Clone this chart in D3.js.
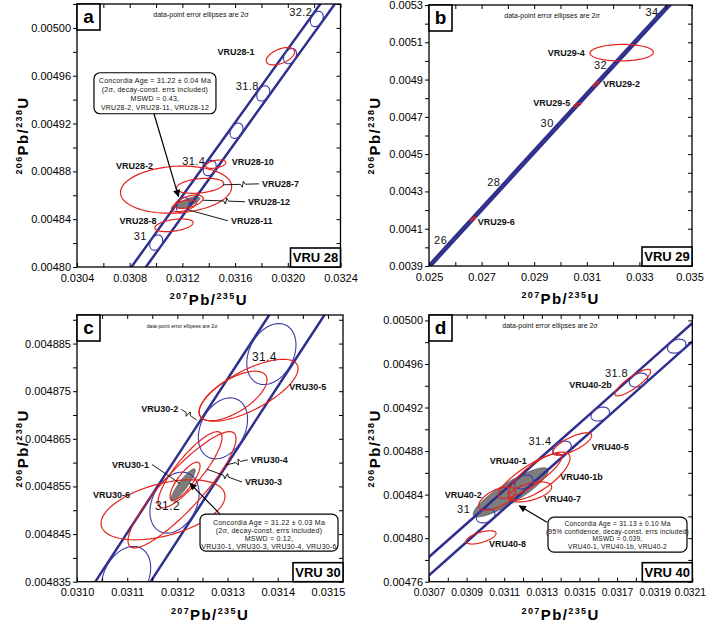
<!DOCTYPE html>
<html><head><meta charset="utf-8">
<script src="https://cdn.jsdelivr.net/npm/d3@7"></script>
<style>
body{margin:0;background:#fff}
svg{display:block}
text{font-family:"Liberation Sans",Arial,Helvetica,sans-serif}
</style>
</head><body>
<svg id="chart" width="707" height="626"></svg>
<script>
// ================= DATA =================
// Concordia reference points (age in Ma, 207Pb/235U, 206Pb/238U); mark = age ellipse drawn
const concordiaA = [
  {age:30.8, x:0.0307981, y:0.0047893},
  {age:31.0, x:0.0310012, y:0.0048204, mark:true, label:"31"},
  {age:31.2, x:0.0312042, y:0.0048516, mark:true},
  {age:31.4, x:0.0314074, y:0.0048828, mark:true, label:"31.4"},
  {age:31.6, x:0.0316106, y:0.0049140, mark:true},
  {age:31.8, x:0.0318138, y:0.0049452, mark:true, label:"31.8"},
  {age:32.0, x:0.0320171, y:0.0049764, mark:true},
  {age:32.2, x:0.0322203, y:0.0050075, mark:true, label:"32.2"},
  {age:32.4, x:0.0324237, y:0.0050387}
];
const concordiaB = [
  {age:24, x:0.0239179, y:0.0037299},
  {age:26, x:0.0259367, y:0.0040414, mark:true, label:"26"},
  {age:28, x:0.0279595, y:0.0043529, mark:true, label:"28"},
  {age:30, x:0.0299863, y:0.0046646, mark:true, label:"30"},
  {age:32, x:0.0320171, y:0.0049764, mark:true, label:"32"},
  {age:34, x:0.0340518, y:0.0052882, mark:true, label:"34"},
  {age:35, x:0.0350707, y:0.0054441}
];
const concordiaC = [
  {age:31.0, x:0.0310013, y:0.0048204},
  {age:31.1, x:0.0310978, y:0.0048360, mark:true},
  {age:31.2, x:0.0311943, y:0.0048516, mark:true, label:"31.2"},
  {age:31.3, x:0.0312908, y:0.0048672, mark:true},
  {age:31.4, x:0.0313873, y:0.0048828, mark:true, label:"31.4"},
  {age:31.5, x:0.0314838, y:0.0048984}
];
const concordiaD = [
  {age:30.6, x:0.0305951, y:0.0047581},
  {age:30.8, x:0.0307981, y:0.0047893},
  {age:31.0, x:0.0310012, y:0.0048204, mark:true, label:"31"},
  {age:31.2, x:0.0312042, y:0.0048516, mark:true},
  {age:31.4, x:0.0314074, y:0.0048828, mark:true, label:"31.4"},
  {age:31.6, x:0.0316106, y:0.0049140, mark:true},
  {age:31.8, x:0.0318138, y:0.0049452, mark:true, label:"31.8"},
  {age:32.0, x:0.0320171, y:0.0049764, mark:true},
  {age:32.2, x:0.0322203, y:0.0050075}
];
// decay-constant error: band half-width (in 207/235) and age-marker ellipse (2 sigma)
const bandHalfWidth = 0.000055;
const ageEllipse = {sx:0.000049, sy:0.0000064, rho:0.30};

// Sample analyses: centre, 2-sigma half-widths, error correlation
const spotsA = [
  {name:"VRU28-1",  x:0.031944, y:0.0049763, sx:0.0001076, sy:0.0000073, rho:0.50},
  {name:"VRU28-10", x:0.031453, y:0.0048860, sx:0.0000758, sy:0.0000035, rho:0.40},
  {name:"VRU28-2",  x:0.031152, y:0.0048647, sx:0.0004220, sy:0.0000197, rho:0.12},
  {name:"VRU28-7",  x:0.031334, y:0.0048679, sx:0.0001795, sy:0.0000063, rho:0.30},
  {name:"VRU28-12", x:0.031250, y:0.0048546, sx:0.0001076, sy:0.0000056, rho:0.50},
  {name:"VRU28-11", x:0.031212, y:0.0048512, sx:0.0000947, sy:0.0000049, rho:0.50},
  {name:"VRU28-8",  x:0.031136, y:0.0048349, sx:0.0001455, sy:0.0000053, rho:0.40}
];
const spotsB = [
  {name:"VRU29-4", x:0.032327, y:0.0050442, sx:0.0012053, sy:0.0000445, rho:0.05},
  {name:"VRU29-2", x:0.031350, y:0.0048763, sx:0.0001100, sy:0.0000130, rho:0.90},
  {name:"VRU29-5", x:0.030639, y:0.0047636, sx:0.0001300, sy:0.0000090, rho:0.60},
  {name:"VRU29-6", x:0.026662, y:0.0041521, sx:0.0001000, sy:0.0000110, rho:0.90}
];
const spotsC = [
  {name:"VRU30-1", x:0.0312152, y:0.0048561, sx:0.0000299, sy:0.0000040, rho:0.80},
  {name:"VRU30-2", x:0.0313108, y:0.0048740, sx:0.0000677, sy:0.0000052, rho:0.65},
  {name:"VRU30-3", x:0.0312092, y:0.0048543, sx:0.0001076, sy:0.0000122, rho:0.88},
  {name:"VRU30-4", x:0.0312251, y:0.0048585, sx:0.0000638, sy:0.0000080, rho:0.85},
  {name:"VRU30-5", x:0.0313420, y:0.0048752, sx:0.0000985, sy:0.0000065, rho:0.70},
  {name:"VRU30-6", x:0.0311714, y:0.0048501, sx:0.0001235, sy:0.0000063, rho:0.45}
];
const spotsD = [
  {name:"VRU40-2b", x:0.0317836, y:0.0049429, sx:0.0000946, sy:0.0000122, rho:0.85},
  {name:"VRU40-5",  x:0.0314614, y:0.0048865, sx:0.0001037, sy:0.0000103, rho:0.75},
  {name:"VRU40-1",  x:0.0312370, y:0.0048571, sx:0.0001686, sy:0.0000206, rho:0.85},
  {name:"VRU40-1b", x:0.0312860, y:0.0048571, sx:0.0001638, sy:0.0000220, rho:0.75},
  {name:"VRU40-7",  x:0.0312370, y:0.0048425, sx:0.0001154, sy:0.0000092, rho:0.50},
  {name:"VRU40-2",  x:0.0310616, y:0.0048365, sx:0.0000973, sy:0.0000107, rho:0.60},
  {name:"VRU40-8",  x:0.0309765, y:0.0048007, sx:0.0000798, sy:0.0000061, rho:0.60}
];
// Concordia ages (grey ellipses)
const concAgeA = {x:0.031246,  y:0.0048540, sx:0.0000856, sy:0.0000049, rho:0.70};
const concAgeC = {x:0.0312112, y:0.0048553, sx:0.0000243, sy:0.0000034, rho:0.90};
const concAgeD = {x:0.0311349, y:0.0048421, sx:0.0001994, sy:0.0000225, rho:0.88};

const calloutTextA = ["Concordia Age = 31.22 \u00b1 0.04 Ma","(2\u03c3, decay-const. errs included)","MSWD = 0.43,","VRU28-2, VRU28-11, VRU28-12"];
const calloutTextC = ["Concordia Age = 31.22 \u00b1 0.03 Ma","(2\u03c3, decay-const. errs included)","MSWD = 0.12,","VRU30-1, VRU30-3, VRU30-4, VRU30-6"];
const calloutTextD = ["Concordia Age = 31.13 \u00b1 0.10 Ma","(95% confidence, decay-const. errs included)","MSWD = 0.039,","VRU40-1, VRU40-1b, VRU40-2"];

// Tick values
const xTicksA = [0.0304,0.0308,0.0312,0.0316,0.0320,0.0324];
const yTicksA = [0.00480,0.00484,0.00488,0.00492,0.00496,0.00500];
const xTicksB = [0.025,0.027,0.029,0.031,0.033,0.035];
const yTicksB = [0.0039,0.0041,0.0043,0.0045,0.0047,0.0049,0.0051,0.0053];
const xTicksC = [0.0310,0.0311,0.0312,0.0313,0.0314,0.0315];
const yTicksC = [0.004835,0.004845,0.004855,0.004865,0.004875,0.004885];
const xTicksD = [0.0307,0.0309,0.0311,0.0313,0.0315,0.0317,0.0319,0.0321];
const yTicksD = [0.00476,0.00480,0.00484,0.00488,0.00492,0.00496,0.00500];

// ================= LAYOUT =================
const panels = [
  {letter:"a", sample:"VRU 28", box:[77,4,340.5,267], xDom:[0.0304,0.0324], yDom:[0.0048,0.00502],
   xt:xTicksA, yt:yTicksA, xf:".4f", yf:".5f", xfs:11, conc:concordiaA, spots:spotsA, cage:concAgeA,
   ageLab:{dx:-16,dy:-7,fs:11}, noteX:124, noteFs:7,
   labels:[
     {n:"VRU28-1", dx:-26, dy:-4, a:"end"},
     {n:"VRU28-10",dx:16, dy:-2.5, a:"start"},
     {n:"VRU28-2", dx:-23, dy:-24, a:"end"},
     {n:"VRU28-7", dx:62, dy:-2, a:"start", lx:23, ly:-1, zig:true},
     {n:"VRU28-12",dx:59, dy:0, a:"start", lx:14, ly:-1.5, zig:true},
     {n:"VRU28-11",dx:47, dy:15, a:"start", lx:4, ly:4},
     {n:"VRU28-8", dx:-17.5, dy:-4, a:"end"}],
   callout:{text:calloutTextA, bx:0.0305288, by:0.0049625, w:122, h:41, first:8, step:9, fs:7, as:[60,41], ae:[-10,-6]}},
  {letter:"b", sample:"VRU 29", box:[429,5,692,266], xDom:[0.025,0.035], yDom:[0.0039,0.0053],
   xt:xTicksB, yt:yTicksB, xf:".3f", yf:".4f", xfs:11, conc:concordiaB, spots:spotsB, cage:null,
   ageLab:{dx:-13,dy:0,fs:11, special:{"34":[-15,5]}}, noteX:123, noteFs:7,
   labels:[
     {n:"VRU29-4", dx:-37, dy:0, a:"end"},
     {n:"VRU29-2", dx:7, dy:0, a:"start"},
     {n:"VRU29-5", dx:-7, dy:-2, a:"end"},
     {n:"VRU29-6", dx:5, dy:3, a:"start"}],
   callout:null},
  {letter:"c", sample:"VRU 30", box:[77,315,343,581.7], xDom:[0.0310,0.03153], yDom:[0.004835,0.004891],
   xt:xTicksC, yt:yTicksC, xf:".4f", yf:".6f", xfs:11, conc:concordiaC, spots:spotsC, cage:concAgeC,
   ageLab:{dx:-7,dy:3,fs:12}, noteX:105, noteFs:5.2,
   labels:[
     {n:"VRU30-1", dx:-36, dy:-16.7, a:"end", lx:-5, ly:2.3},
     {n:"VRU30-2", dx:-54.7, dy:13.3, a:"end", lx:-36.3, ly:24, zig:true},
     {n:"VRU30-3", dx:63, dy:-7.7, a:"start", lx:24.7, ly:-20.7, zig:true},
     {n:"VRU30-4", dx:60.7, dy:-10, a:"start", lx:36.7, ly:-5, zig:true},
     {n:"VRU30-5", dx:40.6, dy:-3.7, a:"start"},
     {n:"VRU30-6", dx:-33, dy:-15, a:"end"}],
   callout:{text:calloutTextC, bx:0.0312451, by:0.0048492, w:138, h:37, first:8.3, step:8.2, fs:7, as:[20,0], ae:[7,-1.7]}},
  {letter:"d", sample:"VRU 40", box:[429,315,692.3,581.7], xDom:[0.0307,0.0321], yDom:[0.00476,0.005005],
   xt:xTicksD, yt:yTicksD, xf:".4f", yf:".5f", xfs:10.3, conc:concordiaD, spots:spotsD, cage:concAgeD,
   ageLab:{dx:-22,dy:-7,fs:11}, noteX:121, noteFs:7,
   labels:[
     {n:"VRU40-2b",dx:-21, dy:2, a:"end"},
     {n:"VRU40-5", dx:19.5, dy:3.5, a:"start"},
     {n:"VRU40-1", dx:-3.3, dy:-15, a:"end"},
     {n:"VRU40-1b",dx:21, dy:1, a:"start"},
     {n:"VRU40-7", dx:14, dy:7.6, a:"start"},
     {n:"VRU40-2", dx:-15.3, dy:-3.3, a:"end"},
     {n:"VRU40-8", dx:8, dy:6.7, a:"start"}],
   callout:{text:calloutTextD, bx:0.0313327, by:0.0048193, w:139, h:35, first:6.8, step:7.5, fs:6.6, as:[-1,5], ae:[8.5,13.5]}}
];

const RED = "#e3231c", BAND = "#2f2f8c", AGEC = "#3a3aa6";

function ellipsePts(e, n=120){
  const r = Math.sqrt(1 - e.rho*e.rho);
  return d3.range(n).map(i => {
    const t = 2*Math.PI*i/n;
    return [e.x + e.sx*Math.cos(t), e.y + e.sy*(e.rho*Math.cos(t) + r*Math.sin(t))];
  });
}
function minorOf(ticks, dom){
  const step = ticks[1]-ticks[0];
  const out = [];
  for (let i=0;i<ticks.length-1;i++) out.push((ticks[i]+ticks[i+1])/2);
  const lo = ticks[0]-step/2, hi = ticks[ticks.length-1]+step/2;
  const [a,b] = [Math.min(...dom), Math.max(...dom)];
  if (lo >= a) out.push(lo);
  if (hi <= b+1e-12) out.push(hi);
  return out;
}

const svg = d3.select("#chart");
const defs = svg.append("defs");
defs.append("marker").attr("id","arrow").attr("viewBox","0 0 10 10")
  .attr("refX",9).attr("refY",5).attr("markerWidth",7).attr("markerHeight",6)
  .attr("orient","auto").attr("markerUnits","strokeWidth")
  .append("path").attr("d","M0,0 L10,5 L0,10 z").attr("fill","#000");

panels.forEach(p => {
  const [L,T,R,B] = p.box;
  const x = d3.scaleLinear().domain(p.xDom).range([L,R]);
  const y = d3.scaleLinear().domain(p.yDom).range([B,T]);
  const g = svg.append("g");
  const clipId = "clip-"+p.letter;
  defs.append("clipPath").attr("id",clipId).append("rect")
    .attr("x",L).attr("y",T).attr("width",R-L).attr("height",B-T);
  const pg = g.append("g").attr("clip-path",`url(#${clipId})`);
  const line = d3.line().x(d=>x(d[0])).y(d=>y(d[1]));
  const closed = d3.line().x(d=>x(d[0])).y(d=>y(d[1])).curve(d3.curveLinearClosed);

  if (p.cage) pg.append("path").attr("d", closed(ellipsePts(p.cage)))
    .attr("fill","#7d7d7d").attr("stroke","#555").attr("stroke-width",0.8);

  [-1,1].forEach(s => pg.append("path")
    .attr("d", line(p.conc.map(c => [c.x + s*bandHalfWidth, c.y])))
    .attr("fill","none").attr("stroke",BAND).attr("stroke-width",2.5));

  p.conc.filter(c => c.mark).forEach(c => pg.append("path")
    .attr("d", closed(ellipsePts({x:c.x, y:c.y, sx:ageEllipse.sx, sy:ageEllipse.sy, rho:ageEllipse.rho})))
    .attr("fill","none").attr("stroke",AGEC).attr("stroke-width",1.1));

  p.spots.forEach(e => pg.append("path").attr("d", closed(ellipsePts(e)))
    .attr("fill","none").attr("stroke",RED).attr("stroke-width",1.2));

  // axes
  const inner = 4;
  const fmtX = d3.format(p.xf), fmtY = d3.format(p.yf);
  const xMinor = minorOf(p.xt, p.xDom), yMinor = minorOf(p.yt, p.yDom);
  const bottom = g.append("g").attr("class","xlab").attr("transform",`translate(0,${B})`)
    .call(d3.axisBottom(x).tickValues(p.xt).tickFormat(fmtX).tickSizeInner(-inner).tickSizeOuter(0).tickPadding(7));
  g.append("g").attr("transform",`translate(0,${B})`)
    .call(d3.axisBottom(x).tickValues(xMinor).tickFormat("").tickSizeInner(-inner).tickSizeOuter(0));
  g.append("g").attr("transform",`translate(${L},0)`)
    .call(d3.axisLeft(y).tickValues(p.yt).tickFormat(fmtY).tickSizeInner(4).tickSizeOuter(0).tickPadding(2));
  g.append("g").attr("transform",`translate(${L},0)`)
    .call(d3.axisLeft(y).tickValues(yMinor).tickFormat("").tickSizeInner(4).tickSizeOuter(0));
  g.append("g").attr("transform",`translate(0,${T})`)
    .call(d3.axisTop(x).tickValues(p.xt.concat(xMinor)).tickFormat("").tickSizeInner(-inner).tickSizeOuter(0));
  g.append("g").attr("transform",`translate(${R},0)`)
    .call(d3.axisRight(y).tickValues(p.yt.concat(yMinor)).tickFormat("").tickSizeInner(-inner).tickSizeOuter(0));
  g.selectAll(".domain").remove();
  g.selectAll(".tick line").attr("stroke","#000").attr("stroke-width",1);
  g.selectAll(".tick text").attr("font-size",11).attr("fill","#000")
    .attr("font-family","'Liberation Sans',Arial,sans-serif");
  bottom.selectAll(".tick text").attr("font-size",p.xfs);
  // keep last x label inside the page
  bottom.selectAll(".tick text").filter((d,i,n)=> i===n.length-1 && x(d)+20>707).attr("dx",-2.5);

  g.append("rect").attr("x",L).attr("y",T).attr("width",R-L).attr("height",B-T)
    .attr("fill","none").attr("stroke","#000").attr("stroke-width",1.3);

  // axis titles
  const xt = g.append("text").attr("x",(L+R)/2).attr("y",B+38).attr("text-anchor","middle")
    .attr("font-weight","bold").attr("letter-spacing",1.4);
  xt.append("tspan").attr("font-size",9).attr("dy",-6).text("207");
  xt.append("tspan").attr("font-size",15).attr("dy",6).text("Pb/");
  xt.append("tspan").attr("font-size",9).attr("dy",-6).text("235");
  xt.append("tspan").attr("font-size",15).attr("dy",6).text("U");
  const yc = (T+B)/2, yx = L-49;
  const yt = g.append("text").attr("transform",`translate(${yx},${yc}) rotate(-90)`).attr("text-anchor","middle")
    .attr("font-weight","bold").attr("letter-spacing",1.4);
  yt.append("tspan").attr("font-size",9).attr("dy",-6).text("206");
  yt.append("tspan").attr("font-size",15).attr("dy",6).text("Pb/");
  yt.append("tspan").attr("font-size",9).attr("dy",-6).text("238");
  yt.append("tspan").attr("font-size",15).attr("dy",6).text("U");

  g.append("text").attr("x",L+p.noteX).attr("y",T+13).attr("text-anchor","middle")
    .attr("font-size",p.noteFs).attr("fill","#111").text("data-point error ellipses are 2\u03c3");

  g.append("rect").attr("x",L).attr("y",T).attr("width",23).attr("height",26)
    .attr("fill","#fff").attr("stroke","#000").attr("stroke-width",1.6);
  g.append("text").attr("x",L+11.5).attr("y",T+19).attr("text-anchor","middle")
    .attr("font-size",19).attr("font-weight","bold").text(p.letter);
  g.append("rect").attr("x",R-50).attr("y",B-19).attr("width",50).attr("height",19)
    .attr("fill","#fff").attr("stroke","#000").attr("stroke-width",1.6);
  g.append("text").attr("x",R-25).attr("y",B-4.8).attr("text-anchor","middle")
    .attr("font-size",13).attr("font-weight","bold").text(p.sample);

  p.conc.filter(c => c.label).forEach(c => {
    const off = (p.ageLab.special && p.ageLab.special[c.label]) || [p.ageLab.dx, p.ageLab.dy];
    g.append("text").attr("x",x(c.x)+off[0]).attr("y",y(c.y)+off[1])
      .attr("text-anchor","middle").attr("dominant-baseline","central")
      .attr("font-size",p.ageLab.fs).attr("letter-spacing",0.4).attr("fill","#111").text(c.label);
  });

  p.labels.forEach(lb => {
    const e = p.spots.find(s => s.name === lb.n);
    const cx = x(e.x), cy = y(e.y);
    const tx = cx + lb.dx, ty = cy + lb.dy;
    g.append("text").attr("x",tx).attr("y",ty).attr("text-anchor",lb.a)
      .attr("dominant-baseline","central").attr("font-size",9).attr("font-weight","bold")
      .attr("fill","#111").text(lb.n);
    if (lb.lx !== undefined) {
      const p1 = [tx + (lb.a === "start" ? -3 : 3), ty];
      const p2 = [cx + lb.lx, cy + lb.ly];
      let d;
      if (lb.zig) {
        const dx = p2[0]-p1[0], dy = p2[1]-p1[1], len = Math.hypot(dx,dy);
        const ux = dx/len, uy = dy/len, nx = -uy, ny = ux;
        const mx = p1[0]+dx*0.45, my = p1[1]+dy*0.45;
        d = `M${p1[0]},${p1[1]}L${mx-2.5*ux},${my-2.5*uy}L${mx-0.5*ux+3*nx},${my-0.5*uy+3*ny}` +
            `L${mx+0.5*ux-3*nx},${my+0.5*uy-3*ny}L${mx+2.5*ux},${my+2.5*uy}L${p2[0]},${p2[1]}`;
      } else {
        d = `M${p1[0]},${p1[1]}L${p2[0]},${p2[1]}`;
      }
      g.append("path").attr("d",d).attr("fill","none").attr("stroke","#000").attr("stroke-width",0.9);
    }
  });

  if (p.callout) {
    const co = p.callout;
    const bx = x(co.bx), by = y(co.by);
    const gx = x(p.cage.x), gy = y(p.cage.y);
    g.append("line").attr("x1",bx+co.as[0]).attr("y1",by+co.as[1])
      .attr("x2",gx+co.ae[0]).attr("y2",gy+co.ae[1])
      .attr("stroke","#000").attr("stroke-width",1.2).attr("marker-end","url(#arrow)");
    g.append("rect").attr("x",bx).attr("y",by).attr("width",co.w).attr("height",co.h)
      .attr("rx",6).attr("fill","#fff").attr("stroke","#000").attr("stroke-width",1.2);
    co.text.forEach((t,i) => g.append("text").attr("x",bx+co.w/2).attr("y",by+co.first+i*co.step)
      .attr("text-anchor","middle").attr("dominant-baseline","central")
      .attr("font-size",co.fs).attr("letter-spacing",0.25).attr("fill","#111").text(t));
  }
});
</script>
</body></html>
